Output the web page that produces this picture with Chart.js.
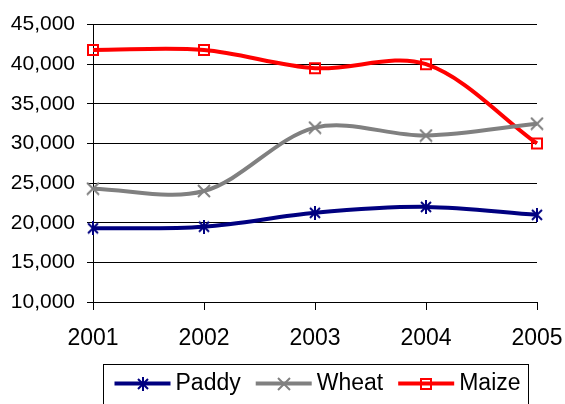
<!DOCTYPE html>
<html>
<head>
<meta charset="utf-8">
<script src="https://cdn.jsdelivr.net/npm/chart.js@4/dist/chart.umd.min.js"></script>
<style>
html,body{margin:0;padding:0;background:#fff;}
#c{display:block;}
</style>
</head>
<body>
<canvas id="c" width="565" height="404"></canvas>
<script>
const years = ['2001', '2002', '2003', '2004', '2005'];
const paddy = [19300, 19500, 21250, 22000, 21000];
const wheat = [24300, 24000, 32000, 31000, 32500];
const maize = [41800, 41800, 39500, 40000, 30000];
const seriesNames = ['Paddy', 'Wheat', 'Maize'];
const yMin = 10000, yMax = 45000, yStep = 5000;

const FONT = '"Liberation Sans", Arial, sans-serif';

function marker(kind, color) {
  const c = document.createElement('canvas');
  c.width = 14; c.height = 14;
  const g = c.getContext('2d');
  g.strokeStyle = color; g.lineWidth = 2; g.lineCap = 'butt';
  g.beginPath();
  if (kind === 'square') {
    g.rect(2, 2, 10, 10);
  } else if (kind === 'x') {
    g.moveTo(1, 1); g.lineTo(13, 13);
    g.moveTo(13, 1); g.lineTo(1, 13);
  } else if (kind === 'star') {
    g.moveTo(2, 2); g.lineTo(12, 12);
    g.moveTo(12, 2); g.lineTo(2, 12);
    g.moveTo(7, 0); g.lineTo(7, 14);
  }
  g.stroke();
  return c;
}

const colors = ['#000080', '#808080', '#FF0000'];
const markers = [marker('star', colors[0]), marker('x', colors[1]), marker('square', colors[2])];
const values = [paddy, wheat, maize];

const datasets = seriesNames.map((name, i) => ({
  label: name,
  data: values[i],
  borderColor: colors[i],
  backgroundColor: colors[i],
  borderWidth: 4,
  tension: 0.33,
  pointStyle: markers[i],
  pointRadius: 7,
  clip: false
}));

const boxLegend = {
  id: 'boxLegend',
  afterDraw(chart) {
    const ctx = chart.ctx, ca = chart.chartArea;
    ctx.save();
    ctx.font = '23px ' + FONT;
    const symW = 56, gap = 5, itemGap = 15, padL = 11, padR = 8;
    const items = chart.data.datasets.map((ds, i) => ({ ds, i, w: ctx.measureText(ds.label).width }));
    const total = items.reduce((s, it) => s + symW + gap + it.w, 0) + itemGap * (items.length - 1);
    const boxW = Math.round(total + padL + padR);
    const cx = (ca.left + ca.right) / 2;
    const bx = Math.round(cx - boxW / 2) + 0.5, by = 364.5;
    ctx.strokeStyle = '#000'; ctx.lineWidth = 1;
    ctx.strokeRect(bx, by, boxW, 60);
    let x = bx + padL;
    const y = 383.5;
    items.forEach(it => {
      ctx.strokeStyle = it.ds.borderColor; ctx.lineWidth = 4;
      ctx.beginPath(); ctx.moveTo(x, y); ctx.lineTo(x + symW, y); ctx.stroke();
      const m = markers[it.i];
      ctx.drawImage(m, Math.round(x + symW / 2 - m.width / 2), Math.round(y - m.height / 2));
      ctx.fillStyle = '#000'; ctx.textBaseline = 'middle'; ctx.textAlign = 'left';
      ctx.fillText(it.ds.label, x + symW + gap, y);
      x += symW + gap + it.w + itemGap;
    });
    ctx.restore();
  }
};

new Chart(document.getElementById('c'), {
  type: 'line',
  data: { labels: years, datasets },
  plugins: [boxLegend],
  options: {
    responsive: false,
    animation: false,
    devicePixelRatio: 1,
    layout: { padding: { top: 23, right: 28, left: 0, bottom: 0 } },
    plugins: { legend: { display: false }, tooltip: { enabled: false } },
    scales: {
      x: {
        type: 'category',
        offset: false,
        grid: { drawOnChartArea: false, drawTicks: true, tickLength: 8, tickColor: '#000', color: '#000' },
        border: { color: '#000', width: 1 },
        ticks: { font: { size: 23, family: FONT }, color: '#000', padding: 15, maxRotation: 0 },
        afterFit: s => { s.height = 102; s.paddingRight = 0; s.paddingLeft = 0; }
      },
      y: {
        min: yMin, max: yMax,
        grid: { color: '#000', tickColor: '#000', tickLength: 6 },
        border: { color: '#000', width: 1 },
        ticks: {
          stepSize: yStep,
          font: { size: 21, family: FONT }, color: '#000', padding: 12,
          callback: v => Number(v).toLocaleString('en-US')
        },
        afterFit: s => { s.width = 93; }
      }
    }
  }
});
</script>
</body>
</html>
